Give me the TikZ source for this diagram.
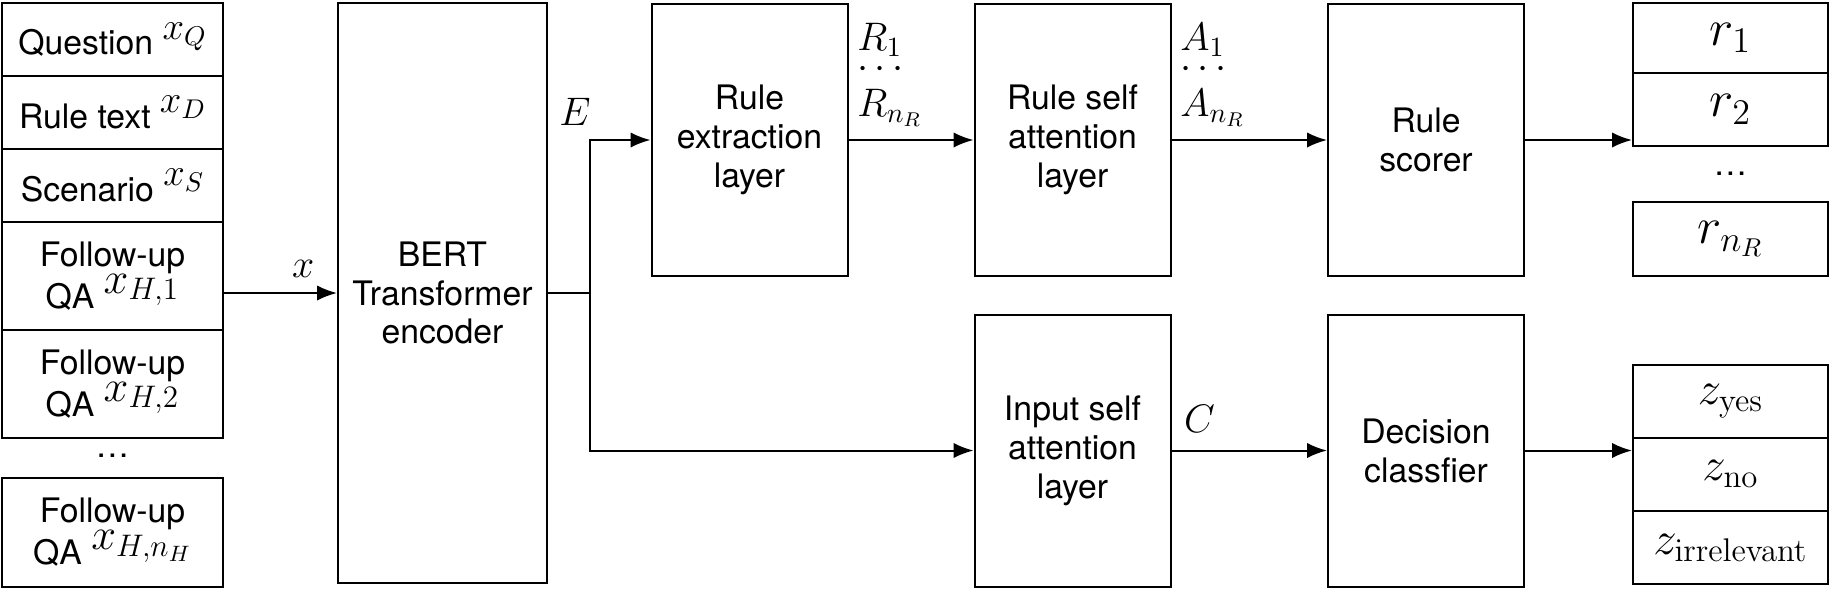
\RequirePackage{fix-cm}
\documentclass[tikz,border=0pt]{standalone}
\usepackage{amsmath}
\usepackage[no-math]{fontspec}
\setmainfont{TeX Gyre Heros}
\usepackage{tikz}
\usetikzlibrary{positioning,arrows.meta}
\newcommand{\boxfont}{\fontsize{14.4}{16.6}\selectfont}
\newcommand{\inputfont}{\fontsize{14.4}{18}\selectfont}
\newcommand{\labelfont}{\fontsize{17}{20}\selectfont}
\newcommand{\stackfont}{\fontsize{17}{13.6}\selectfont}
\newcommand{\rfont}{\fontsize{22}{24}\selectfont}
\newcommand{\zfont}{\fontsize{20}{24}\selectfont}
\newcommand{\upsym}[2][16.5]{\raisebox{6.5pt}{\fontsize{#1}{18}\selectfont$#2$}}
\tikzset{
  flowarrow/.style={-{Latex[length=3mm, width=2.3mm]}, line width=0.85pt},
  layerbox/.style={draw, line width=0.85pt, minimum width=2.94cm, minimum height=4.08cm, align=center, font=\boxfont},
  inputbox/.style={draw, line width=0.85pt, minimum width=3.315cm, inner sep=0pt, align=center, font=\inputfont},
  outbox/.style={draw, line width=0.85pt, minimum width=2.925cm, inner sep=0pt}
}

\begin{document}
\begin{tikzpicture}[>=Latex, every node/.style={font=\boxfont}]
      \useasboundingbox (0,0) rectangle (27.45,-8.85);
      % inputs
      \node[inputbox, minimum height=1.095cm] (question) at (1.6875,-0.5925) {Question \upsym{x_Q}};
      \node[inputbox, minimum height=1.095cm] (ruletext) at (1.6875,-1.6875) {Rule text \upsym{x_D}};
      \node[inputbox, minimum height=1.095cm] (scenario) at (1.6875,-2.7825) {Scenario \upsym{x_S}};
      \node[inputbox, minimum height=1.62cm] (followa) at (1.6875,-4.14) {Follow-up\\QA \upsym[19]{x_{H,1}}};
      \node[inputbox, minimum height=1.62cm] (followb) at (1.6875,-5.76) {Follow-up\\QA \upsym[19]{x_{H,2}}};
      \node[anchor=base, font=\inputfont] (inputdots) at (1.6875,-6.855) {\dots};
      \node[inputbox, minimum height=1.635cm] (follown) at (1.6875,-7.9875) {Follow-up\\QA \upsym[19]{x_{H,n_H}}};
      % encoder and layers
      \node[layerbox, minimum width=3.135cm, minimum height=8.7cm] (bert) at (6.6375,-4.395) {BERT\\Transformer\\encoder};
      \node[layerbox] (ruleext) at (11.2425,-2.1) {Rule\\extraction\\layer};
      \node[layerbox] (ruleself) at (16.0875,-2.1) {Rule self\\attention\\layer};
      \node[layerbox] (scorer) at (21.39,-2.1) {Rule\\scorer};
      \node[layerbox] (inputself) at (16.0875,-6.7575) {Input self\\attention\\layer};
      \node[layerbox] (decision) at (21.39,-6.7575) {Decision\\classfier};
      % outputs
      \node[outbox, font=\rfont, minimum height=1.05cm] (rone) at (25.9575,-0.57) {$r_1$};
      \node[outbox, font=\rfont, minimum height=1.095cm] (rtwo) at (25.9575,-1.6425) {$r_2$};
      \node[anchor=base, font=\inputfont] (rdots) at (25.9575,-2.625) {\dots};
      \node[outbox, font=\rfont, minimum height=1.11cm] (rlast) at (25.9575,-3.585) {$r_{n_R}$};
      \node[outbox, font=\zfont, minimum height=1.095cm] (zyes) at (25.9575,-6.015) {$z_{\mathrm{yes}}$};
      \node[outbox, font=\zfont, minimum height=1.095cm] (zno) at (25.9575,-7.11) {$z_{\mathrm{no}}$};
      \node[outbox, font=\zfont, minimum height=1.095cm] (zirr) at (25.9575,-8.2125) {$z_{\mathrm{irrelevant}}$};
      % connectors
      \draw[flowarrow] (followa.east |- bert.west) -- node[above=3pt, pos=0.7, font=\labelfont] (xlab) {$x$} (bert.west);
      \coordinate[right=0.63cm of bert.east] (split);
      \draw[flowarrow] (bert.east) -- (split) |- (ruleext.west);
      \draw[flowarrow] (split) |- (inputself.west);
      \node[font=\labelfont] (elab) at (8.625,-1.68) {$E$};
      \draw[flowarrow] (ruleext) -- node[pos=0, anchor=south west, yshift=2pt, align=left, font=\stackfont] (rlab) {$R_1$\\[-1.5pt]$\cdots$\\[2.5pt]$R_{n_R}$} (ruleself);
      \draw[flowarrow] (ruleself) -- node[pos=0, anchor=south west, yshift=2pt, align=left, font=\stackfont] (alab) {$A_1$\\[-1.5pt]$\cdots$\\[2.5pt]$A_{n_R}$} (scorer);
      \draw[flowarrow] (scorer) -- (scorer.east -| rtwo.west);
      \draw[flowarrow] (inputself) -- node[pos=0.18, above=4pt, font=\labelfont] (clab) {$C$} (decision);
      \draw[flowarrow] (decision) -- (decision.east -| zyes.west);
    \end{tikzpicture}
\end{document}
